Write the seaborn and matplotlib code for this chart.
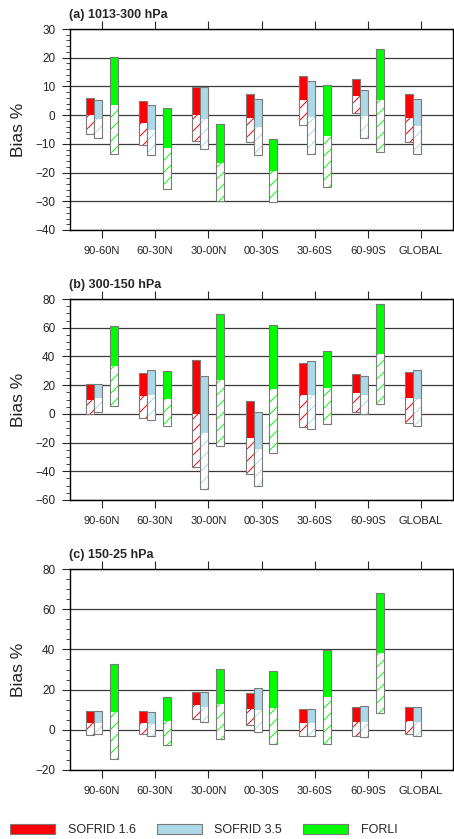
import numpy as np
import pandas as pd
import matplotlib
matplotlib.use("Agg")
import matplotlib.pyplot as plt
import matplotlib.patches as mpatches
from matplotlib.ticker import MultipleLocator
import seaborn as sns

# regions on the x axis
regions = ["90-60N", "60-30N", "30-00N", "00-30S", "30-60S", "60-90S", "GLOBAL"]
series = ["SOFRID 1.6", "SOFRID 3.5", "FORLI"]
colors = ["#ff0000", "#add8e6", "#00ff00"]

# (a) 1013-300 hPa : upper edge, mean, lower edge of each bar
a_s16_hi = [5.8, 5.0, 9.9, 7.3, 13.7, 12.5, 7.2]
a_s16_mid = [0.0, -2.8, 0.2, -1.0, 5.3, 6.5, -1.0]
a_s16_lo = [-6.4, -10.5, -8.9, -9.2, -3.3, 0.6, -9.3]
a_s35_hi = [5.2, 3.6, 9.8, 5.5, 12.0, 8.6, 5.6]
a_s35_mid = [-1.5, -5.1, -1.2, -4.3, -0.8, -0.2, -3.8]
a_s35_lo = [-7.9, -13.9, -11.8, -13.9, -13.6, -8.0, -13.4]
a_forli_hi = [20.3, 2.6, -3.0, -8.4, 10.5, 23.2]
a_forli_mid = [3.4, -11.5, -16.5, -19.4, -7.2, 5.1]
a_forli_lo = [-13.6, -25.8, -30.0, -30.3, -24.9, -12.9]

# (b) 300-150 hPa
b_s16_hi = [20.9, 28.6, 37.4, 8.8, 35.5, 27.9, 29.0]
b_s16_mid = [9.8, 12.5, 0.0, -16.5, 13.0, 14.4, 11.1]
b_s16_lo = [0.0, -3.2, -36.7, -41.8, -9.3, 1.4, -6.5]
b_s35_hi = [20.9, 30.2, 26.5, 1.4, 36.5, 26.2, 30.4]
b_s35_mid = [11.1, 12.8, -13.0, -24.6, 13.0, 13.2, 10.4]
b_s35_lo = [1.4, -4.4, -52.5, -50.2, -10.2, 0.0, -8.8]
b_forli_hi = [61.3, 29.7, 69.7, 61.8, 43.7, 76.2]
b_forli_mid = [33.2, 10.4, 23.7, 17.2, 18.1, 41.6]
b_forli_lo = [5.8, -8.8, -22.1, -27.2, -7.4, 6.7]

# (c) 150-25 hPa
c_s16_hi = [9.5, 9.5, 18.6, 18.2, 10.3, 11.1, 11.1]
c_s16_mid = [3.6, 3.5, 12.1, 10.4, 3.5, 4.0, 4.3]
c_s16_lo = [-2.5, -2.3, 5.3, 2.3, -3.2, -3.2, -2.3]
c_s35_hi = [9.3, 8.8, 18.9, 20.7, 10.3, 11.6, 11.1]
c_s35_mid = [3.6, 3.0, 11.4, 9.8, 3.5, 3.8, 3.8]
c_s35_lo = [-2.2, -3.2, 4.1, -1.0, -3.3, -3.6, -3.2]
c_forli_hi = [32.8, 16.4, 30.2, 29.4, 39.8, 68.0]
c_forli_mid = [9.0, 4.3, 12.8, 10.9, 16.4, 38.3]
c_forli_lo = [-14.6, -7.6, -4.6, -7.0, -7.0, 8.5]

panels = [
    ("(a) 1013-300 hPa", (-40, 30), 10, 2,
     [(a_s16_lo, a_s16_mid, a_s16_hi), (a_s35_lo, a_s35_mid, a_s35_hi),
      (a_forli_lo, a_forli_mid, a_forli_hi)]),
    ("(b) 300-150 hPa", (-60, 80), 20, 5,
     [(b_s16_lo, b_s16_mid, b_s16_hi), (b_s35_lo, b_s35_mid, b_s35_hi),
      (b_forli_lo, b_forli_mid, b_forli_hi)]),
    ("(c) 150-25 hPa", (-20, 80), 20, 5,
     [(c_s16_lo, c_s16_mid, c_s16_hi), (c_s35_lo, c_s35_mid, c_s35_hi),
      (c_forli_lo, c_forli_mid, c_forli_hi)]),
]

bar_w = 0.15
offsets = [-1.5 * bar_w, -0.5 * bar_w, 1.5 * bar_w]

# figure is drawn at 72 dpi so the hatch spacing is tighter; k keeps sizes as at 100 dpi
DPI = 72
k = 100 / DPI

sns.set_style("ticks")
plt.rcParams["font.family"] = ["Liberation Sans", "DejaVu Sans"]
plt.rcParams["hatch.linewidth"] = 0.7 * k

W, H = 454, 839
fig = plt.figure(figsize=(W / DPI, H / DPI), dpi=DPI)
tops = [29, 299, 569]

for (title, ylim, major, minor, data), top in zip(panels, tops):
    ax = fig.add_axes([70 / W, 1 - (top + 201) / H, 383 / W, 201 / H])
    ax.set_axisbelow(True)
    ax.yaxis.grid(True, color="#3a3a3a", lw=0.9 * k)

    for (lo, mid, hi), off, col in zip(data, offsets, colors):
        lo, mid, hi = np.array(lo), np.array(mid), np.array(hi)
        pos = np.arange(len(lo)) + off
        # hatched lower part
        sns.barplot(x=pos, y=mid - lo, bottom=lo, native_scale=True, width=bar_w,
                    errorbar=None, color=col, saturation=1, facecolor="white",
                    edgecolor=col, hatch="//", linewidth=0, ax=ax)
        # solid upper part
        sns.barplot(x=pos, y=hi - mid, bottom=mid, native_scale=True, width=bar_w,
                    errorbar=None, color=col, saturation=1, linewidth=0, ax=ax)
        # outline of whole bar
        sns.barplot(x=pos, y=hi - lo, bottom=lo, native_scale=True, width=bar_w,
                    errorbar=None, color="#7a7a7a", saturation=1, facecolor="none",
                    edgecolor="#7a7a7a", linewidth=0.8 * k, ax=ax)

    ax.set_xlim(-0.6, 6.6)
    ax.set_ylim(*ylim)
    ax.set_xticks(range(len(regions)))
    ax.set_xticklabels(regions, fontsize=8 * k, color="#222222")
    ax.yaxis.set_major_locator(MultipleLocator(major))
    ax.yaxis.set_minor_locator(MultipleLocator(minor))
    ax.tick_params(axis="y", labelsize=8.5 * k, labelcolor="#222222")
    ax.tick_params(axis="x", which="both", top=True, bottom=True, direction="out",
                   length=5.5 * k, width=0.8 * k, pad=6 * k)
    ax.tick_params(axis="y", which="major", left=True, right=False, direction="out",
                   length=5.5 * k, width=0.8 * k, pad=5 * k)
    ax.tick_params(axis="y", which="minor", left=True, right=False, direction="out",
                   length=3 * k, width=0.6 * k)
    for s in ax.spines.values():
        s.set_visible(True)
        s.set_linewidth(1.0 * k)
        s.set_color("black")
    ax.set_xlabel("")
    ax.set_ylabel("Bias %", fontsize=12.5 * k, color="#222222")
    ax.yaxis.set_label_coords(-0.115, 0.5)
    fig.text(69 / W, 1 - (top - 14) / H, title, fontsize=9 * k, fontweight="bold",
             ha="left", va="center")

handles = [mpatches.Patch(facecolor=c, edgecolor="#7a7a7a", linewidth=0.8 * k, label=s)
           for s, c in zip(series, colors)]
fig.legend(handles=handles, loc="center left", bbox_to_anchor=(10 / W, 1 - 830 / H),
           ncol=3, frameon=False, fontsize=9 * k, handlelength=3.6, handleheight=0.8,
           handletextpad=1.0, columnspacing=1.7, borderpad=0, borderaxespad=0)

fig.savefig("out.png", dpi=DPI)
